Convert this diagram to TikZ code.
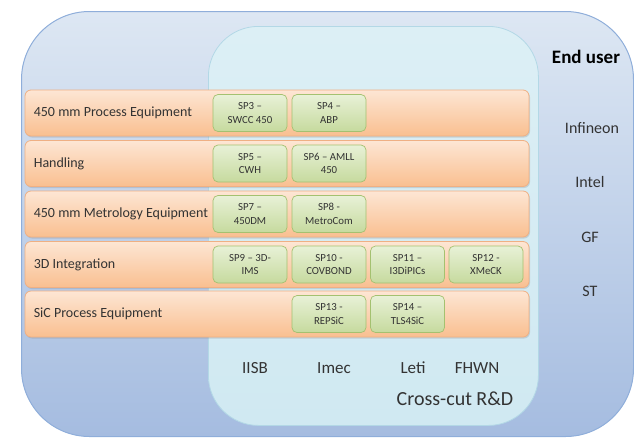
\documentclass[tikz,border=0pt]{standalone}
\usepackage{fontspec}
\setmainfont{Carlito}
\usetikzlibrary{shadows}
\definecolor{outerA}{HTML}{DDE7F3}
\definecolor{outerB}{HTML}{A5BCE0}
\definecolor{outerL}{HTML}{8FAEDA}
\definecolor{innerA}{HTML}{DCEFF5}
\definecolor{innerB}{HTML}{D0E9F2}
\definecolor{innerL}{HTML}{B3D8E6}
\definecolor{rowA}{HTML}{FDE6D4}
\definecolor{rowB}{HTML}{F9BF90}
\definecolor{rowL}{HTML}{EFB084}
\definecolor{spA}{HTML}{E8F1D7}
\definecolor{spB}{HTML}{C6DA9E}
\definecolor{spL}{HTML}{A4C170}
\definecolor{txt}{HTML}{333333}
\tikzset{
  rowbar/.style={rounded corners=6pt, draw=rowL, line width=0.8pt, top color=rowA, bottom color=rowB,
    minimum width=504pt, minimum height=46pt, inner sep=0pt, drop shadow={opacity=0.25, shadow xshift=1pt, shadow yshift=-1.5pt}},
  spbox/.style={rounded corners=5pt, draw=spL, line width=0.7pt, top color=spA, bottom color=spB,
    minimum width=74pt, minimum height=37pt, inner sep=0pt, align=center, text=txt,
    font=\fontsize{10.8}{13.5}\selectfont},
  rowlabel/.style={anchor=west, text=txt, font=\fontsize{14}{16}\selectfont, inner sep=0pt},
  userlabel/.style={text=txt, font=\fontsize{16}{18}\selectfont, inner sep=0pt},
  partner/.style={text=txt, font=\fontsize{17}{19}\selectfont, inner sep=0pt},
}
\begin{document}
\begin{tikzpicture}[x=1pt,y=-1pt]
\useasboundingbox (0,0) rectangle (634,437);
\begin{scope}
\clip (0,0) rectangle (634,437);
\node[draw=outerL, line width=1pt, rounded corners=68pt, top color=outerA, bottom color=outerB,
  minimum width=612pt, minimum height=425pt, inner sep=0pt, anchor=north west] (outer) at (21,11) {};
\end{scope}
\node[draw=innerL, line width=0.8pt, rounded corners=50pt, top color=innerA, bottom color=innerB,
  minimum width=330pt, minimum height=399pt, inner sep=0pt, anchor=north west] (inner) at (208,26) {};

\node[rowbar] (r1) at (277,113) {};
\node[rowbar] (r2) at (277,163.5) {};
\node[rowbar] (r3) at (277,214) {};
\node[rowbar] (r4) at (277,264.5) {};
\node[rowbar] (r5) at (277,314) {};

\node[rowlabel] (l1) at ([xshift=9pt]r1.west) {450 mm Process Equipment};
\node[rowlabel] (l2) at ([xshift=9pt]r2.west) {Handling};
\node[rowlabel] (l3) at ([xshift=9pt]r3.west) {450 mm Metrology Equipment};
\node[rowlabel] (l4) at ([xshift=9pt]r4.west) {3D Integration};
\node[rowlabel] (l5) at ([xshift=9pt]r5.west) {SiC Process Equipment};

\node[spbox] (sp3) at (250,113) {SP3 –\\SWCC 450};
\node[spbox] (sp4) at (329,113) {SP4 –\\ABP};
\node[spbox] (sp5) at (250,163.5) {SP5 –\\CWH};
\node[spbox] (sp6) at (329,163.5) {SP6 – AMLL\\450};
\node[spbox] (sp7) at (250,214) {SP7 –\\450DM};
\node[spbox] (sp8) at (329,214) {SP8 -\\MetroCom};
\node[spbox] (sp9) at (250,264.5) {SP9 – 3D-\\IMS};
\node[spbox] (sp10) at (329,264.5) {SP10 -\\COVBOND};
\node[spbox] (sp11) at (407.5,264.5) {SP11 –\\I3DiPICs};
\node[spbox] (sp12) at (486,264.5) {SP12 -\\XMeCK};
\node[spbox] (sp13) at (329,314) {SP13 -\\REPSiC};
\node[spbox] (sp14) at (407.5,314) {SP14 –\\TLS4SiC};

\node[text=black, font=\bfseries\fontsize{19}{21}\selectfont, inner sep=0pt] (eu) at (586,57) {End user};
\node[userlabel] (u1) at (592,128) {Infineon};
\node[userlabel] (u2) at (590,182) {Intel};
\node[userlabel] (u3) at (590,237) {GF};
\node[userlabel] (u4) at (590,291) {ST};

\node[partner] (p1) at (255,368) {IISB};
\node[partner] (p2) at (334,368) {Imec};
\node[partner] (p3) at (413,368) {Leti};
\node[partner] (p4) at (477,368) {FHWN};
\node[text=txt, font=\fontsize{20}{22}\selectfont, inner sep=0pt] (cc) at (455,399) {Cross-cut R\&D};
\end{tikzpicture}
\end{document}
